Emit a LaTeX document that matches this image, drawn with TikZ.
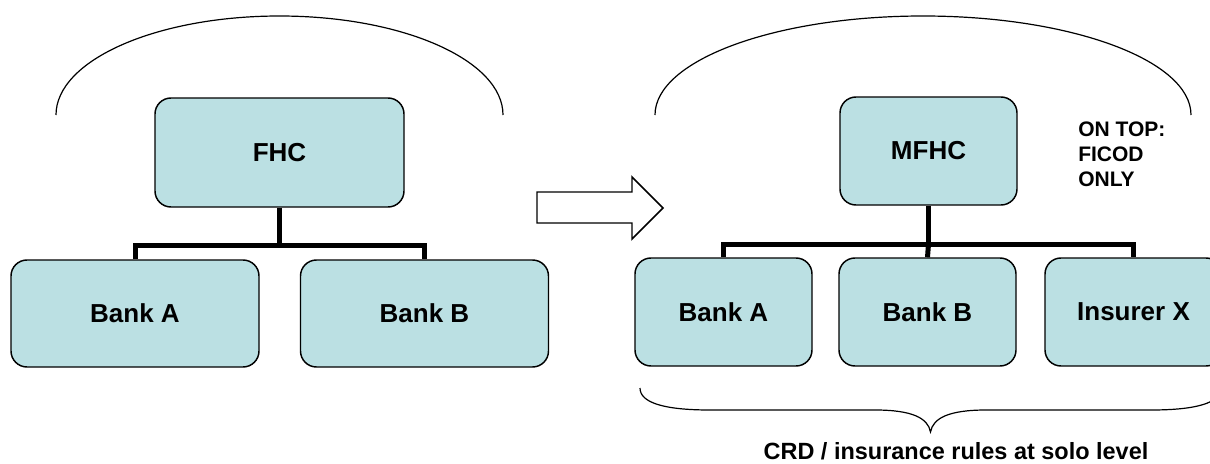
\documentclass[tikz,border=0pt]{standalone}
\usepackage{fontspec}
\setmainfont{Liberation Sans}
\definecolor{boxfill}{RGB}{187,224,227}
\begin{document}
\begin{tikzpicture}[x=0.75pt,y=-0.75pt,
  entity/.style={draw=black, line width=1.1pt, fill=boxfill, rounded corners=12pt,
    inner sep=0pt, font=\fontsize{19.5}{23}\selectfont\bfseries},
  leftbox/.style={entity, minimum width=186pt, minimum height=80.25pt},
  rightbox/.style={entity, minimum width=132.75pt, minimum height=81pt},
  link/.style={draw=black, line width=3.75pt, line join=miter},
  outline/.style={draw=black, line width=0.9pt},
  note/.style={inner sep=0pt, font=\fontsize{15.75}{18.75}\selectfont\bfseries}
]
\useasboundingbox (0,0) rectangle (1210,464);

% group outlines
\draw[outline] (56,115) arc[start angle=180, end angle=360, x radius=223.5, y radius=99];
\draw[outline] (655,115) arc[start angle=180, end angle=360, x radius=268, y radius=99];

% before: financial holding company with two banks
\node[entity, minimum width=186.75pt, minimum height=81.75pt] (fhc) at (279.5,152.5) {FHC};
\node[leftbox] (bankA) at (135,313.5) {Bank A};
\node[leftbox] (bankB) at (424.5,313.5) {Bank B};
\coordinate (j1) at (279.5,245);
\draw[link] (fhc.south) -- (j1);
\draw[link] (bankA.north) |- (j1) -| (bankB.north);

% transition arrow
\draw[line width=1.1pt, fill=white] (537,192) -- (632,192) -- (632,177) -- (663,208)
  -- (632,239) -- (632,223) -- (537,223) -- cycle;

% after: mixed financial holding company
\node[rightbox, minimum height=81pt] (mfhc) at (928.5,151) {MFHC};
\node[rightbox] (rbankA) at (723.5,312) {Bank A};
\node[rightbox] (rbankB) at (927.5,312) {Bank B};
\node[rightbox] (insX) at (1133.5,312) {Insurer X};
\coordinate (j2) at (928.5,244);
\draw[link] (mfhc.south) -- (j2);
\draw[link] (rbankA.north) |- (j2) -| (insX.north);
\draw[link] (j2) -- (rbankB.north);

\node[note, anchor=north west, align=left] (ontop) at (1078,121.5) {ON TOP:\\FICOD\\ONLY};

% brace under the solo entities
\draw[outline] (640,388) .. controls (640,403) and (665,410) .. (710,410)
  -- (875,410) .. controls (912,410) and (928,418) .. (930.5,432)
  .. controls (933,418) and (949,410) .. (986,410)
  -- (1151,410) .. controls (1196,410) and (1221,403) .. (1221,388);

\node[inner sep=0pt, anchor=base, font=\fontsize{17.6}{21}\selectfont\bfseries] (rules) at (956,459)
  {CRD / insurance rules at solo level};
\end{tikzpicture}
\end{document}
